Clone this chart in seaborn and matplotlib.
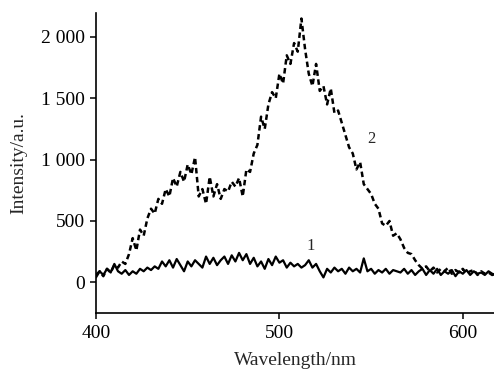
import numpy as np
import pandas as pd
import matplotlib
matplotlib.use("Agg")
import matplotlib.pyplot as plt
import seaborn as sns
from matplotlib.ticker import FuncFormatter

# wavelength grid (nm)
wavelength = np.arange(400, 620, 2)

# curve 1 (solid)
curve1 = [40, 90, 60, 110, 80, 150, 90, 70, 100, 60,
          90, 70, 110, 90, 120, 100, 130, 110, 170, 130,
          180, 120, 190, 140, 90, 170, 130, 180, 150, 120,
          210, 150, 200, 140, 180, 210, 150, 220, 170, 240,
          180, 230, 150, 200, 130, 170, 110, 190, 140, 210,
          160, 180, 120, 160, 130, 150, 120, 140, 180, 120,
          150, 90, 40, 110, 80, 120, 90, 110, 70, 120,
          90, 110, 80, 195, 90, 110, 70, 100, 80, 110,
          70, 100, 90, 80, 110, 70, 100, 60, 90, 110,
          60, 100, 70, 110, 60, 90, 70, 100, 50, 90,
          70, 100, 60, 90, 70, 80, 60, 90, 70, 60]

# curve 2 (dashed)
curve2 = [60, 90, 50, 110, 80, 140, 120, 170, 150, 230,
          360, 260, 430, 380, 520, 600, 560, 680, 640, 760,
          700, 850, 780, 900, 820, 960, 880, 1020, 700, 760,
          640, 860, 700, 800, 680, 760, 740, 820, 780, 850,
          700, 920, 900, 1050, 1120, 1350, 1250, 1450, 1550, 1500,
          1700, 1620, 1850, 1780, 1950, 1880, 2150, 1900, 1700, 1600,
          1780, 1560, 1600, 1450, 1580, 1380, 1400, 1300, 1200, 1100,
          1050, 920, 980, 800, 760, 720, 640, 600, 480, 460,
          500, 380, 400, 350, 280, 240, 230, 180, 140, 110,
          130, 90, 120, 80, 110, 90, 120, 70, 100, 80,
          110, 70, 90, 100, 60, 90, 70, 80, 60, 70]

y_ticks = [0, 500, 1000, 1500, 2000]
x_ticks = [400, 500, 600]

df = pd.DataFrame({"wavelength": wavelength, "c1": curve1, "c2": curve2})

sns.set_theme(style="ticks")
plt.rcParams["font.family"] = ["Liberation Serif", "DejaVu Serif"]

fig = plt.figure(figsize=(4.94, 3.71), dpi=100)
ax = fig.add_axes([96 / 494, (371 - 313) / 371, (494 - 96) / 494, 300 / 371])

sns.lineplot(data=df, x="wavelength", y="c1", ax=ax, color="black", lw=1.6)
sns.lineplot(data=df, x="wavelength", y="c2", ax=ax, color="black", lw=1.8)
ax.lines[-1].set_dashes([2.2, 1.4])

ax.set_xlim(400, 617)
ax.set_ylim(-250, 2195)
ax.set_xticks(x_ticks)
ax.set_yticks(y_ticks)
ax.yaxis.set_major_formatter(FuncFormatter(lambda v, p: f"{int(v):,}".replace(",", " ")))

for s in ["top", "right"]:
    ax.spines[s].set_visible(False)
for s in ["left", "bottom"]:
    ax.spines[s].set_linewidth(1.2)
    ax.spines[s].set_color("black")

ax.tick_params(axis="both", direction="out", length=4, width=1.1, labelsize=14, colors="black")
ax.tick_params(axis="x", pad=5)
ax.tick_params(axis="y", pad=4)

ax.set_xlabel("Wavelength/nm", fontsize=14, labelpad=7)
ax.set_ylabel("Intensity/a.u.", fontsize=14, labelpad=10)

ax.text(517, 295, "1", fontsize=12, ha="center", va="center")
ax.text(550, 1165, "2", fontsize=12, ha="center", va="center")

fig.savefig("out.png", dpi=100)
